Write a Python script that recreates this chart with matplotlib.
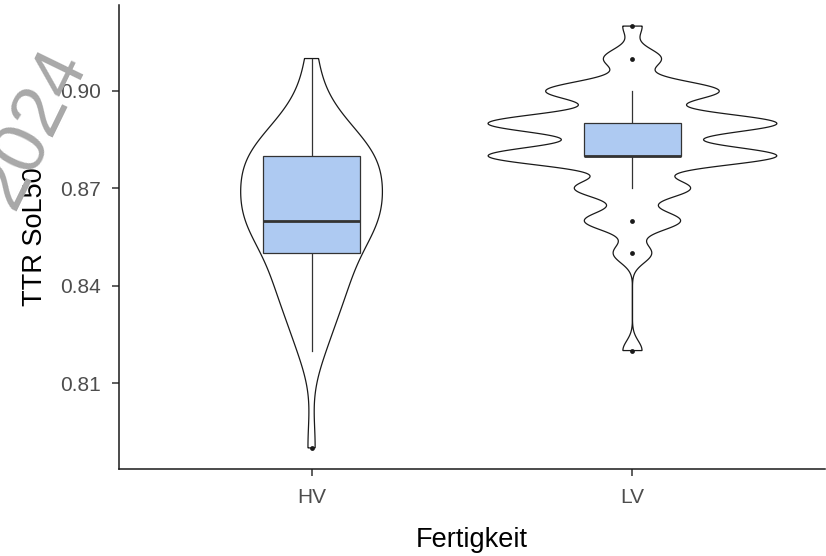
import numpy as np
import matplotlib
matplotlib.use("Agg")
import matplotlib.pyplot as plt

plt.rcParams['font.family'] = ['Liberation Sans', 'DejaVu Sans']

# TTR SoL50 values (rounded to 2 decimals) and how often each occurs
groups = ['HV', 'LV']
hv_values = [0.79, 0.82, 0.83, 0.84, 0.85, 0.86, 0.87, 0.88, 0.89, 0.90, 0.91]
hv_counts = [1, 2, 3, 5, 5, 10, 8, 10, 4, 1, 1]
lv_values = [0.82, 0.85, 0.86, 0.87, 0.88, 0.89, 0.90, 0.91, 0.92]
lv_counts = [1, 2, 5, 6, 15, 15, 9, 3, 1]
y_ticks = [0.81, 0.84, 0.87, 0.90]

data = [np.repeat(hv_values, hv_counts), np.repeat(lv_values, lv_counts)]


def nrd0(x):
    # R's default bandwidth rule
    q1, q3 = np.percentile(x, [25, 75])
    lo = min(np.std(x, ddof=1), (q3 - q1) / 1.34)
    return 0.9 * lo * len(x) ** -0.2


def density(x, n=512):
    bw = nrd0(x)
    grid = np.linspace(x.min(), x.max(), n)
    d = np.exp(-0.5 * ((grid[:, None] - x[None, :]) / bw) ** 2).sum(axis=1)
    d /= len(x) * bw * np.sqrt(2 * np.pi)
    return grid, d


fig = plt.figure(figsize=(8.26, 5.56), dpi=100)
ax = fig.add_axes([119 / 826, 87 / 556, 706 / 826, 464 / 556])

# violins, scaled by area: widest point over both groups gets 0.9 of a slot
dens = [density(x) for x in data]
dmax = max(d.max() for _, d in dens)

for i, (grid, d) in enumerate(dens):
    pos = i + 1
    hw = d / dmax * 0.45
    xs = np.concatenate([pos - hw, (pos + hw)[::-1], [pos - hw[0]]])
    ys = np.concatenate([grid, grid[::-1], [grid[0]]])
    ax.fill(xs, ys, facecolor='white', edgecolor='#1a1a1a', linewidth=0.9, zorder=2)

# boxplots on top
for i, x in enumerate(data):
    pos = i + 1
    q1, med, q3 = np.percentile(x, [25, 50, 75])
    iqr = q3 - q1
    lo_fence, hi_fence = q1 - 1.5 * iqr - 1e-9, q3 + 1.5 * iqr + 1e-9
    inside = x[(x >= lo_fence) & (x <= hi_fence)]
    outliers = np.unique(x[(x < lo_fence) | (x > hi_fence)])
    ax.plot([pos, pos], [inside.min(), q1], color='#333333', lw=0.9, zorder=3)
    ax.plot([pos, pos], [q3, inside.max()], color='#333333', lw=0.9, zorder=3)
    ax.add_patch(plt.Rectangle((pos - 0.15, q1), 0.3, q3 - q1, facecolor='#aecaf2',
                               edgecolor='#333333', linewidth=0.9, zorder=3))
    ax.plot([pos - 0.15, pos + 0.15], [med, med], color='#333333', lw=2.0,
            solid_capstyle='butt', zorder=4)
    ax.scatter(np.full(len(outliers), pos), outliers, s=12, color='#1a1a1a',
               linewidths=0, zorder=5)

allv = np.concatenate(data)
span = allv.max() - allv.min()
ax.set_ylim(allv.min() - 0.05 * span, allv.max() + 0.05 * span)
ax.set_xlim(0.4, 2.6)
ax.set_xticks([1, 2])
ax.set_xticklabels(groups)
ax.set_yticks(y_ticks)
ax.set_yticklabels(['%.2f' % t for t in y_ticks])

for side in ['top', 'right']:
    ax.spines[side].set_visible(False)
for side in ['left', 'bottom']:
    ax.spines[side].set_linewidth(1.1)
    ax.spines[side].set_color('#1a1a1a')
ax.tick_params(axis='both', length=5, width=1.1, color='#333333',
               labelcolor='#4d4d4d', labelsize=15)
ax.tick_params(axis='y', pad=8)
ax.tick_params(axis='x', pad=9)

ax.set_xlabel('Fertigkeit', fontsize=19.5, color='black')
ax.set_ylabel('TTR SoL50', fontsize=19.5, color='black')
ax.xaxis.set_label_coords(0.5, -0.125)
ax.yaxis.set_label_coords(-0.10, 0.5)

fig.text(87 / 826, 1 - 62 / 556, '2024', rotation=64, rotation_mode='anchor',
         ha='right', va='baseline', fontsize=54, color='#a8a8a8', zorder=0)

fig.savefig('out.png', dpi=100)
